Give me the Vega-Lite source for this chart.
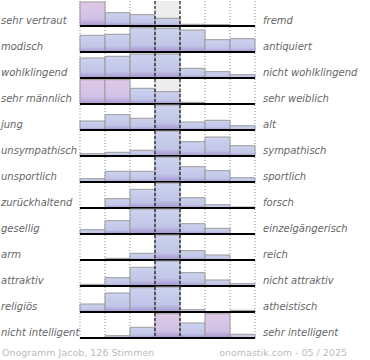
{
  "$schema": "https://vega.github.io/schema/vega-lite/v6.json",
  "padding": {"left": 1, "top": 0, "right": 0, "bottom": 0},
  "background": "white",
  "bounds": "flush",
  "datasets": {
    "labels": [
      {"r": 1, "left": "sehr vertraut", "right": "fremd"},
      {"r": 2, "left": "modisch", "right": "antiquiert"},
      {"r": 3, "left": "wohlklingend", "right": "nicht wohlklingend"},
      {"r": 4, "left": "sehr männlich", "right": "sehr weiblich"},
      {"r": 5, "left": "\u00a0jung", "right": "alt"},
      {"r": 6, "left": "unsympathisch", "right": "sympathisch"},
      {"r": 7, "left": "unsportlich", "right": "sportlich"},
      {"r": 8, "left": "zurückhaltend", "right": "forsch"},
      {"r": 9, "left": "gesellig", "right": "einzelgängerisch"},
      {"r": 10, "left": "arm", "right": "reich"},
      {"r": 11, "left": "attraktiv", "right": "nicht attraktiv"},
      {"r": 12, "left": "religiös", "right": "atheistisch"},
      {"r": 13, "left": "nicht intelligent", "right": "sehr intelligent"}
    ]
  },
  "data": {"values": [
    {"r":1,"c":1,"v":24,"p":true},{"r":1,"c":2,"v":13.3},{"r":1,"c":3,"v":11.3},{"r":1,"c":4,"v":7.7},{"r":1,"c":5,"v":1.7},{"r":1,"c":6,"v":1.3},{"r":1,"c":7,"v":0},
    {"r":2,"c":1,"v":16.7},{"r":2,"c":2,"v":17.7},{"r":2,"c":3,"v":24.3},{"r":2,"c":4,"v":23.7},{"r":2,"c":5,"v":22},{"r":2,"c":6,"v":12.3},{"r":2,"c":7,"v":13.3},
    {"r":3,"c":1,"v":20},{"r":3,"c":2,"v":21.7},{"r":3,"c":3,"v":24},{"r":3,"c":4,"v":24},{"r":3,"c":5,"v":9.7},{"r":3,"c":6,"v":6.3},{"r":3,"c":7,"v":3.3},
    {"r":4,"c":1,"v":24.3,"p":true},{"r":4,"c":2,"v":24.3,"p":true},{"r":4,"c":3,"v":15.7},{"r":4,"c":4,"v":12.3},{"r":4,"c":5,"v":1.7},{"r":4,"c":6,"v":0},{"r":4,"c":7,"v":0},
    {"r":5,"c":1,"v":9},{"r":5,"c":2,"v":15.3},{"r":5,"c":3,"v":11.7},{"r":5,"c":4,"v":25},{"r":5,"c":5,"v":8},{"r":5,"c":6,"v":9.7},{"r":5,"c":7,"v":4.3},
    {"r":6,"c":1,"v":2.3},{"r":6,"c":2,"v":3.7},{"r":6,"c":3,"v":5.7},{"r":6,"c":4,"v":25},{"r":6,"c":5,"v":14.3},{"r":6,"c":6,"v":19},{"r":6,"c":7,"v":10.3},
    {"r":7,"c":1,"v":3.3},{"r":7,"c":2,"v":10.7},{"r":7,"c":3,"v":10.7},{"r":7,"c":4,"v":25},{"r":7,"c":5,"v":15.3},{"r":7,"c":6,"v":11.3},{"r":7,"c":7,"v":4.3},
    {"r":8,"c":1,"v":0.3},{"r":8,"c":2,"v":9.3},{"r":8,"c":3,"v":18.7},{"r":8,"c":4,"v":25},{"r":8,"c":5,"v":10.3},{"r":8,"c":6,"v":3.3},{"r":8,"c":7,"v":1},
    {"r":9,"c":1,"v":4.3},{"r":9,"c":2,"v":13.3},{"r":9,"c":3,"v":25},{"r":9,"c":4,"v":25},{"r":9,"c":5,"v":10.3},{"r":9,"c":6,"v":5.7},{"r":9,"c":7,"v":0},
    {"r":10,"c":1,"v":0},{"r":10,"c":2,"v":1.7},{"r":10,"c":3,"v":6.7},{"r":10,"c":4,"v":25},{"r":10,"c":5,"v":9.3},{"r":10,"c":6,"v":5},{"r":10,"c":7,"v":0},
    {"r":11,"c":1,"v":1.7},{"r":11,"c":2,"v":8.3},{"r":11,"c":3,"v":18.7},{"r":11,"c":4,"v":25},{"r":11,"c":5,"v":13.3},{"r":11,"c":6,"v":6},{"r":11,"c":7,"v":2.3},
    {"r":12,"c":1,"v":8},{"r":12,"c":2,"v":19},{"r":12,"c":3,"v":24.3},{"r":12,"c":4,"v":25},{"r":12,"c":5,"v":2.3},{"r":12,"c":6,"v":0},{"r":12,"c":7,"v":1.7},
    {"r":13,"c":1,"v":0},{"r":13,"c":2,"v":2.3},{"r":13,"c":3,"v":10.7},{"r":13,"c":4,"v":24.3,"p":true},{"r":13,"c":5,"v":15},{"r":13,"c":6,"v":24.3,"p":true},{"r":13,"c":7,"v":3.7}
  ]},
  "transform": [
    {"lookup": "r", "from": {"data": {"name": "labels"}, "key": "r", "fields": ["left", "right"]}}
  ],
  "facet": {
    "row": {
      "field": "r", "type": "ordinal",
      "title": null,
      "header": {"labels": false, "title": null, "labelPadding": 0, "titlePadding": 0}
    }
  },
  "spacing": 1,
  "spec": {
    "width": 175,
    "height": 25,
    "layer": [
      {
        "transform": [{"filter": "datum.c == 4"}],
        "mark": {"type": "bar", "color": "#ededed"},
        "encoding": {
          "x": {"field": "c", "type": "ordinal", "scale": {"domain": [1,2,3,4,5,6,7], "paddingInner": 0, "paddingOuter": 0}, "axis": null},
          "y": {"datum": 25, "type": "quantitative", "scale": {"domain": [0, 25], "nice": false}, "axis": null, "stack": null}
        }
      },
      {
        "mark": {"type": "rule", "color": "#888888", "strokeDash": [1, 2], "strokeWidth": 1},
        "encoding": {"x": {"field": "c", "type": "ordinal", "bandPosition": 0}}
      },
      {
        "transform": [{"filter": "datum.c == 7"}],
        "mark": {"type": "rule", "color": "#888888", "strokeDash": [1, 2], "strokeWidth": 1},
        "encoding": {"x": {"field": "c", "type": "ordinal", "bandPosition": 1}}
      },
      {
        "transform": [{"filter": "!datum.p"}],
        "mark": {"type": "bar", "stroke": "#9a9a9a", "strokeWidth": 1,
          "color": {"gradient": "linear", "x1": 0, "y1": 0, "x2": 0, "y2": 1,
            "stops": [{"offset": 0, "color": "#ccd2ee"}, {"offset": 0.7, "color": "#c1c5e7"}, {"offset": 1, "color": "#a493cf"}]}},
        "encoding": {
          "x": {"field": "c", "type": "ordinal"},
          "y": {"field": "v", "type": "quantitative", "stack": null}
        }
      },
      {
        "transform": [{"filter": "datum.p"}],
        "mark": {"type": "bar", "stroke": "#9a9a9a", "strokeWidth": 1,
          "color": {"gradient": "linear", "x1": 0, "y1": 0, "x2": 0, "y2": 1,
            "stops": [{"offset": 0, "color": "#e0c8e7"}, {"offset": 0.7, "color": "#cfc2e6"}, {"offset": 1, "color": "#a994d0"}]}},
        "encoding": {
          "x": {"field": "c", "type": "ordinal"},
          "y": {"field": "v", "type": "quantitative", "stack": null}
        }
      },
      {
        "transform": [{"filter": "datum.c == 4"}],
        "mark": {"type": "rule", "color": "black", "strokeDash": [3, 2], "strokeWidth": 1},
        "encoding": {"x": {"field": "c", "type": "ordinal", "bandPosition": 0}}
      },
      {
        "transform": [{"filter": "datum.c == 4"}],
        "mark": {"type": "rule", "color": "black", "strokeDash": [3, 2], "strokeWidth": 1},
        "encoding": {"x": {"field": "c", "type": "ordinal", "bandPosition": 1}}
      },
      {
        "mark": {"type": "rule", "color": "black", "strokeWidth": 2},
        "encoding": {"y": {"datum": 0, "type": "quantitative"}}
      },
      {
        "transform": [{"filter": "datum.c == 1"}],
        "mark": {"type": "text", "align": "left", "baseline": "middle", "dx": -79, "font": "DejaVu Sans", "fontStyle": "italic", "fontSize": 10, "color": "#666666"},
        "encoding": {
          "x": {"field": "c", "type": "ordinal", "bandPosition": 0},
          "y": {"datum": 5, "type": "quantitative"},
          "text": {"field": "left"}
        }
      },
      {
        "transform": [{"filter": "datum.c == 7"}],
        "mark": {"type": "text", "align": "left", "baseline": "middle", "dx": 8, "font": "DejaVu Sans", "fontStyle": "italic", "fontSize": 10, "color": "#666666"},
        "encoding": {
          "x": {"field": "c", "type": "ordinal", "bandPosition": 1},
          "y": {"datum": 5, "type": "quantitative"},
          "text": {"field": "right"}
        }
      },
      {
        "transform": [{"filter": "datum.c == 1 && datum.r == 13"}],
        "mark": {"type": "text", "align": "left", "baseline": "middle", "dx": -78, "dy": 15, "font": "DejaVu Sans", "fontSize": 9.5, "color": "#bbbbbb"},
        "encoding": {
          "x": {"field": "c", "type": "ordinal", "bandPosition": 0},
          "y": {"datum": 0, "type": "quantitative"},
          "text": {"value": "Onogramm Jacob, 126 Stimmen"}
        }
      },
      {
        "transform": [{"filter": "datum.c == 7 && datum.r == 13"}],
        "mark": {"type": "text", "align": "right", "baseline": "middle", "dx": 92, "dy": 15, "font": "DejaVu Sans", "fontSize": 9.5, "color": "#bbbbbb"},
        "encoding": {
          "x": {"field": "c", "type": "ordinal", "bandPosition": 1},
          "y": {"datum": 0, "type": "quantitative"},
          "text": {"value": "onomastik.com - 05 / 2025"}
        }
      }
    ]
  },
  "config": {"view": {"stroke": null}, "font": "DejaVu Sans"}
}
